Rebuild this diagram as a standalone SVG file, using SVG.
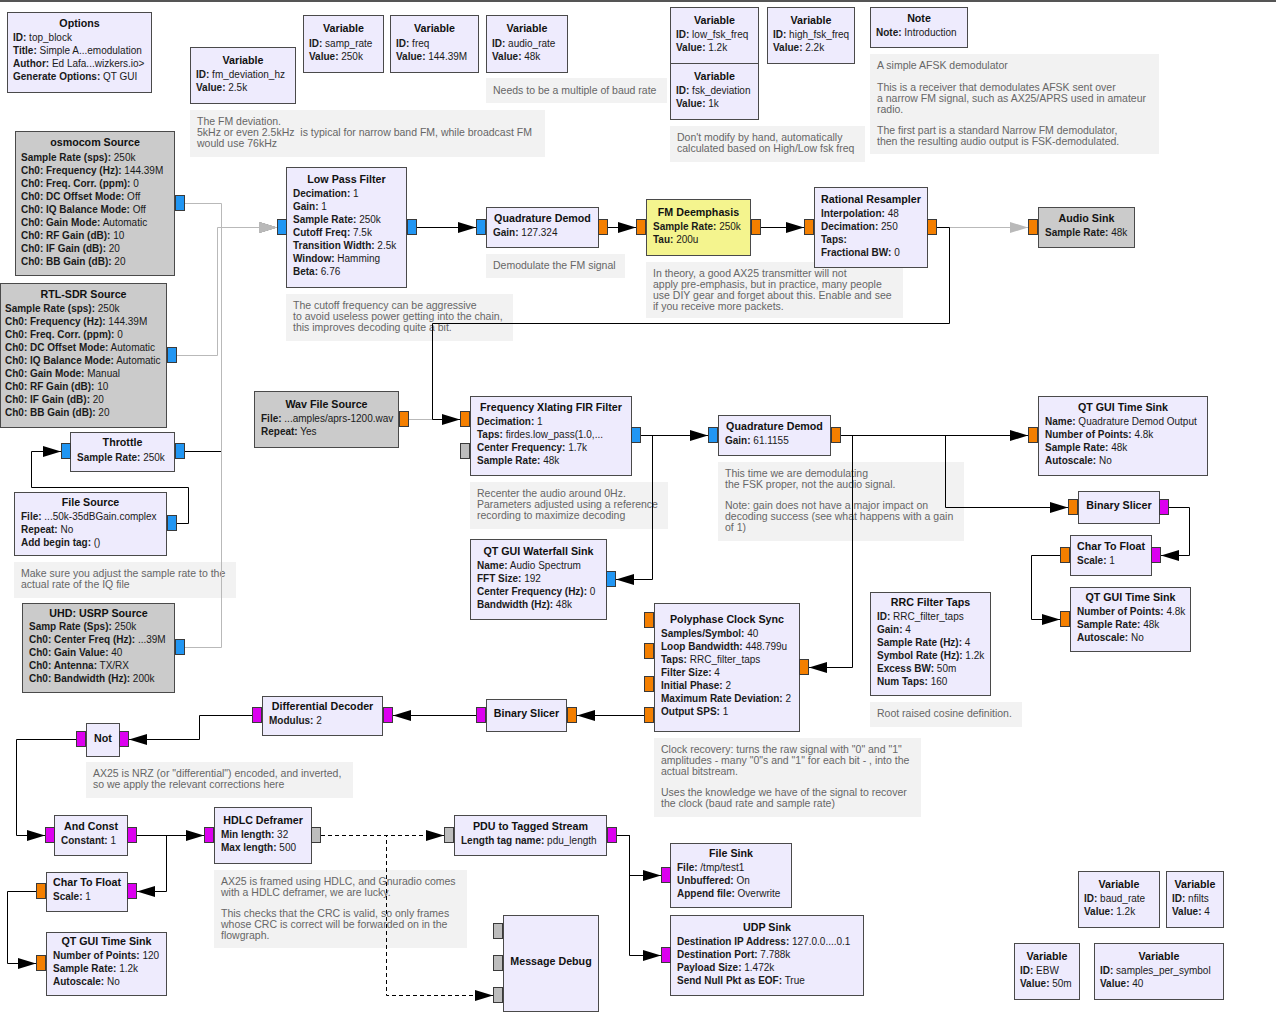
<svg xmlns="http://www.w3.org/2000/svg" width="1276" height="1026" viewBox="0 0 1276 1026">
<style>
.blk{fill:#eeebfd;stroke:#4a4a4a;stroke-width:1}
.dis{fill:#cbcbcb}
.yel{fill:#f4f48e}
.note{fill:#f2f2f2}
.p{stroke:#3a3a3a;stroke-width:1}
.pb{fill:#2196f3}
.po{fill:#f47f00}
.pm{fill:#dc00ef}
.pg{fill:#bdbdbd}
text{font-family:"Liberation Sans",Arial,sans-serif}
.t{font-size:10.7px;font-weight:bold;text-anchor:middle;fill:#111}
.b{font-size:10px;fill:#1a1a1a}
.k{font-weight:bold}
.n{font-size:10.5px;fill:#666;white-space:pre}
.c{fill:none;stroke:#000;stroke-width:1}
.cg{stroke:#b9b9b9}
.cd{stroke-dasharray:4 3}
</style>
<defs>
<marker id="ab" viewBox="0 0 18 12" refX="18" refY="6" markerWidth="18" markerHeight="12" markerUnits="userSpaceOnUse" orient="auto"><path d="M0,0.5 L18,6 L0,11.5z" fill="#000"/></marker>
<marker id="ag" viewBox="0 0 18 12" refX="18" refY="6" markerWidth="18" markerHeight="12" markerUnits="userSpaceOnUse" orient="auto"><path d="M0,0.5 L18,6 L0,11.5z" fill="#b9b9b9"/></marker>
</defs>
<rect x="0" y="0" width="1276" height="1026" fill="#fff"/>
<line x1="0" y1="1" x2="1276" y2="1" stroke="#555" stroke-width="2"/>

<g id="notes">
<g id="note-fm-dev"><rect class="note" x="190" y="110" width="355" height="47"/>
<text class="n" x="197" y="125">The FM deviation.</text>
<text class="n" x="197" y="136">5kHz or even 2.5kHz  is typical for narrow band FM, while broadcast FM</text>
<text class="n" x="197" y="147">would use 76kHz</text></g>
<g id="note-baud"><rect class="note" x="486" y="78" width="181" height="25"/>
<text class="n" x="493" y="94">Needs to be a multiple of baud rate</text></g>
<g id="note-fsk"><rect class="note" x="670" y="126" width="195" height="36"/>
<text class="n" x="677" y="141">Don't modify by hand, automatically</text>
<text class="n" x="677" y="152">calculated based on High/Low fsk freq</text></g>
<g id="note-intro"><rect class="note" x="870" y="54" width="289" height="100"/>
<text class="n" x="877" y="69">A simple AFSK demodulator</text>
<text class="n" x="877" y="91">This is a receiver that demodulates AFSK sent over</text>
<text class="n" x="877" y="102">a narrow FM signal, such as AX25/APRS used in amateur</text>
<text class="n" x="877" y="113">radio.</text>
<text class="n" x="877" y="134">The first part is a standard Narrow FM demodulator,</text>
<text class="n" x="877" y="145">then the resulting audio output is FSK-demodulated.</text></g>
<g id="note-demod"><rect class="note" x="486" y="254" width="139" height="24"/>
<text class="n" x="493" y="269">Demodulate the FM signal</text></g>
<g id="note-theory"><rect class="note" x="646" y="262" width="257" height="56"/>
<text class="n" x="653" y="277">In theory, a good AX25 transmitter will not</text>
<text class="n" x="653" y="288">apply pre-emphasis, but in practice, many people</text>
<text class="n" x="653" y="299">use DIY gear and forget about this. Enable and see</text>
<text class="n" x="653" y="310">if you receive more packets.</text></g>
<g id="note-cutoff"><rect class="note" x="286" y="294" width="227" height="47"/>
<text class="n" x="293" y="309">The cutoff frequency can be aggressive</text>
<text class="n" x="293" y="320">to avoid useless power getting into the chain,</text>
<text class="n" x="293" y="331">this improves decoding quite a bit.</text></g>
<g id="note-recenter"><rect class="note" x="470" y="482" width="198" height="47"/>
<text class="n" x="477" y="497">Recenter the audio around 0Hz.</text>
<text class="n" x="477" y="508">Parameters adjusted using a reference</text>
<text class="n" x="477" y="519">recording to maximize decoding</text></g>
<g id="note-thistime"><rect class="note" x="718" y="462" width="246" height="79"/>
<text class="n" x="725" y="477">This time we are demodulating</text>
<text class="n" x="725" y="488">the FSK proper, not the audio signal.</text>
<text class="n" x="725" y="509">Note: gain does not have a major impact on</text>
<text class="n" x="725" y="520">decoding success (see what happens with a gain</text>
<text class="n" x="725" y="531">of 1)</text></g>
<g id="note-makesure"><rect class="note" x="14" y="562" width="222" height="36"/>
<text class="n" x="21" y="577">Make sure you adjust the sample rate to the</text>
<text class="n" x="21" y="588">actual rate of the IQ file</text></g>
<g id="note-rrc"><rect class="note" x="870" y="702" width="152" height="25"/>
<text class="n" x="877" y="717">Root raised cosine definition.</text></g>
<g id="note-clock"><rect class="note" x="654" y="738" width="267" height="79"/>
<text class="n" x="661" y="753">Clock recovery: turns the raw signal with "0" and "1"</text>
<text class="n" x="661" y="764">amplitudes - many "0"s and "1" for each bit - , into the</text>
<text class="n" x="661" y="775">actual bitstream.</text>
<text class="n" x="661" y="796">Uses the knowledge we have of the signal to recover</text>
<text class="n" x="661" y="807">the clock (baud rate and sample rate)</text></g>
<g id="note-nrz"><rect class="note" x="86" y="762" width="267" height="36"/>
<text class="n" x="93" y="777">AX25 is NRZ (or "differential") encoded, and inverted,</text>
<text class="n" x="93" y="788">so we apply the relevant corrections here</text></g>
<g id="note-hdlc"><rect class="note" x="214" y="870" width="253" height="78"/>
<text class="n" x="221" y="885">AX25 is framed using HDLC, and Gnuradio comes</text>
<text class="n" x="221" y="896">with a HDLC deframer, we are lucky.</text>
<text class="n" x="221" y="917">This checks that the CRC is valid, so only frames</text>
<text class="n" x="221" y="928">whose CRC is correct will be forwarded on in the</text>
<text class="n" x="221" y="939">flowgraph.</text></g>
</g>

<g id="connectors">
<path class="c" marker-end="url(#ab)" d="M185,451.5 H221.5 V227.5 H277"/>
<path class="c cg" marker-end="url(#ag)" d="M185,203.5 H221.5 V227.5 H277"/>
<path class="c cg" marker-end="url(#ag)" d="M177,355.5 H217.5 V227.5 H277"/>
<path class="c cg" marker-end="url(#ag)" d="M185,647.5 H221.5 V227.5 H277"/>
<path class="c" marker-end="url(#ab)" d="M177,523.5 H188.5 V487.5 H31.5 V451.5 H61"/>
<path class="c" marker-end="url(#ab)" d="M417,227.5 H476"/>
<path class="c" marker-end="url(#ab)" d="M608,227.5 H636"/>
<path class="c" marker-end="url(#ab)" d="M761,227.5 H804"/>
<path class="c cg" marker-end="url(#ag)" d="M937,227.5 H1028"/>
<path class="c cg" d="M409,419.5 H445"/>
<path class="c" marker-end="url(#ab)" d="M937,227.5 H949.5 V323.5 H432.5 V419.5 H460"/>
<path class="c" marker-end="url(#ab)" d="M641,435.5 H708"/>
<path class="c" marker-end="url(#ab)" d="M641,435.5 H652.5 V579.5 H616"/>
<path class="c" marker-end="url(#ab)" d="M841,435.5 H1028"/>
<path class="c" marker-end="url(#ab)" d="M841,435.5 H945.5 V507.5 H1068"/>
<path class="c" marker-end="url(#ab)" d="M841,435.5 H852.5 V667.5 H809"/>
<path class="c" marker-end="url(#ab)" d="M1169,507.5 H1189.5 V555.5 H1161"/>
<path class="c" marker-end="url(#ab)" d="M1060,555.5 H1031.5 V619.5 H1060"/>
<path class="c" marker-end="url(#ab)" d="M644,715.5 H577"/>
<path class="c" marker-end="url(#ab)" d="M476,715.5 H393"/>
<path class="c" marker-end="url(#ab)" d="M252,715.5 H199.5 V739.5 H129"/>
<path class="c" marker-end="url(#ab)" d="M76,739.5 H16.5 V835.5 H45"/>
<path class="c" marker-end="url(#ab)" d="M137,835.5 H204"/>
<path class="c" marker-end="url(#ab)" d="M137,835.5 H166.5 V891.5 H137"/>
<path class="c" marker-end="url(#ab)" d="M36,891.5 H7.5 V963.5 H36"/>
<path class="c cd" marker-end="url(#ab)" d="M321,835.5 H444"/>
<path class="c cd" marker-end="url(#ab)" d="M321,835.5 H386.5 V995.5 H493"/>
<path class="c" marker-end="url(#ab)" d="M617,835.5 H629.5 V875.5 H661"/>
<path class="c" marker-end="url(#ab)" d="M617,835.5 H629.5 V955.5 H661"/>
</g>

<g id="options"><rect class="blk" x="7.5" y="12.5" width="144" height="80"/>
<text class="t" x="79.5" y="27">Options</text>
<text class="b" x="13" y="41"><tspan class="k">ID:</tspan> top_block</text>
<text class="b" x="13" y="54"><tspan class="k">Title:</tspan> Simple A...emodulation</text>
<text class="b" x="13" y="67"><tspan class="k">Author:</tspan> Ed Lafa...wizkers.io&gt;</text>
<text class="b" x="13" y="80"><tspan class="k">Generate Options:</tspan> QT GUI</text></g>

<g id="var-samp-rate"><rect class="blk" x="303.5" y="15.5" width="80" height="57"/>
<text class="t" x="343.5" y="32">Variable</text>
<text class="b" x="309" y="47"><tspan class="k">ID:</tspan> samp_rate</text>
<text class="b" x="309" y="60"><tspan class="k">Value:</tspan> 250k</text></g>
<g id="var-freq"><rect class="blk" x="390.5" y="15.5" width="88" height="57"/>
<text class="t" x="434.5" y="32">Variable</text>
<text class="b" x="396" y="47"><tspan class="k">ID:</tspan> freq</text>
<text class="b" x="396" y="60"><tspan class="k">Value:</tspan> 144.39M</text></g>
<g id="var-audio-rate"><rect class="blk" x="486.5" y="15.5" width="81" height="57"/>
<text class="t" x="527" y="32">Variable</text>
<text class="b" x="492" y="47"><tspan class="k">ID:</tspan> audio_rate</text>
<text class="b" x="492" y="60"><tspan class="k">Value:</tspan> 48k</text></g>
<g id="var-fm-dev"><rect class="blk" x="190.5" y="47.5" width="105" height="56"/>
<text class="t" x="243" y="64">Variable</text>
<text class="b" x="196" y="78"><tspan class="k">ID:</tspan> fm_deviation_hz</text>
<text class="b" x="196" y="91"><tspan class="k">Value:</tspan> 2.5k</text></g>
<g id="var-low-fsk"><rect class="blk" x="670.5" y="7.5" width="88" height="56"/>
<text class="t" x="714.5" y="24">Variable</text>
<text class="b" x="676" y="38"><tspan class="k">ID:</tspan> low_fsk_freq</text>
<text class="b" x="676" y="51"><tspan class="k">Value:</tspan> 1.2k</text></g>
<g id="var-fsk-dev"><rect class="blk" x="670.5" y="63.5" width="88" height="56"/>
<text class="t" x="714.5" y="80">Variable</text>
<text class="b" x="676" y="94"><tspan class="k">ID:</tspan> fsk_deviation</text>
<text class="b" x="676" y="107"><tspan class="k">Value:</tspan> 1k</text></g>
<g id="var-high-fsk"><rect class="blk" x="767.5" y="7.5" width="87" height="56"/>
<text class="t" x="811" y="24">Variable</text>
<text class="b" x="773" y="38"><tspan class="k">ID:</tspan> high_fsk_freq</text>
<text class="b" x="773" y="51"><tspan class="k">Value:</tspan> 2.2k</text></g>
<g id="note-block"><rect class="blk" x="870.5" y="7.5" width="97" height="40"/>
<text class="t" x="919" y="22">Note</text>
<text class="b" x="876" y="36"><tspan class="k">Note:</tspan> Introduction</text></g>

<g id="osmocom-source"><rect class="blk dis" x="15.5" y="131.5" width="159" height="144"/>
<text class="t" x="95" y="146">osmocom Source</text>
<text class="b" x="21" y="161"><tspan class="k">Sample Rate (sps):</tspan> 250k</text>
<text class="b" x="21" y="174"><tspan class="k">Ch0: Frequency (Hz):</tspan> 144.39M</text>
<text class="b" x="21" y="187"><tspan class="k">Ch0: Freq. Corr. (ppm):</tspan> 0</text>
<text class="b" x="21" y="200"><tspan class="k">Ch0: DC Offset Mode:</tspan> Off</text>
<text class="b" x="21" y="213"><tspan class="k">Ch0: IQ Balance Mode:</tspan> Off</text>
<text class="b" x="21" y="226"><tspan class="k">Ch0: Gain Mode:</tspan> Automatic</text>
<text class="b" x="21" y="239"><tspan class="k">Ch0: RF Gain (dB):</tspan> 10</text>
<text class="b" x="21" y="252"><tspan class="k">Ch0: IF Gain (dB):</tspan> 20</text>
<text class="b" x="21" y="265"><tspan class="k">Ch0: BB Gain (dB):</tspan> 20</text>
<rect class="p pb" x="175.5" y="195.5" width="9" height="15"/></g>

<g id="rtl-sdr-source"><rect class="blk dis" x="0.5" y="283.5" width="166" height="144"/>
<text class="t" x="83.5" y="298">RTL-SDR Source</text>
<text class="b" x="5" y="312"><tspan class="k">Sample Rate (sps):</tspan> 250k</text>
<text class="b" x="5" y="325"><tspan class="k">Ch0: Frequency (Hz):</tspan> 144.39M</text>
<text class="b" x="5" y="338"><tspan class="k">Ch0: Freq. Corr. (ppm):</tspan> 0</text>
<text class="b" x="5" y="351"><tspan class="k">Ch0: DC Offset Mode:</tspan> Automatic</text>
<text class="b" x="5" y="364"><tspan class="k">Ch0: IQ Balance Mode:</tspan> Automatic</text>
<text class="b" x="5" y="377"><tspan class="k">Ch0: Gain Mode:</tspan> Manual</text>
<text class="b" x="5" y="390"><tspan class="k">Ch0: RF Gain (dB):</tspan> 10</text>
<text class="b" x="5" y="403"><tspan class="k">Ch0: IF Gain (dB):</tspan> 20</text>
<text class="b" x="5" y="416"><tspan class="k">Ch0: BB Gain (dB):</tspan> 20</text>
<rect class="p pb" x="167.5" y="347.5" width="9" height="15"/></g>

<g id="throttle"><rect class="blk" x="70.5" y="432.5" width="104" height="39"/>
<text class="t" x="122.5" y="446">Throttle</text>
<text class="b" x="77" y="461"><tspan class="k">Sample Rate:</tspan> 250k</text>
<rect class="p pb" x="61.5" y="443.5" width="9" height="15"/>
<rect class="p pb" x="175.5" y="443.5" width="9" height="15"/></g>

<g id="file-source"><rect class="blk" x="14.5" y="492.5" width="152" height="63"/>
<text class="t" x="90.5" y="506">File Source</text>
<text class="b" x="21" y="520"><tspan class="k">File:</tspan> ...50k-35dBGain.complex</text>
<text class="b" x="21" y="533"><tspan class="k">Repeat:</tspan> No</text>
<text class="b" x="21" y="546"><tspan class="k">Add begin tag:</tspan> ()</text>
<rect class="p pb" x="167.5" y="515.5" width="9" height="15"/></g>

<g id="uhd-source"><rect class="blk dis" x="22.5" y="603.5" width="152" height="89"/>
<text class="t" x="98.5" y="617">UHD: USRP Source</text>
<text class="b" x="29" y="630"><tspan class="k">Samp Rate (Sps):</tspan> 250k</text>
<text class="b" x="29" y="643"><tspan class="k">Ch0: Center Freq (Hz):</tspan> ...39M</text>
<text class="b" x="29" y="656"><tspan class="k">Ch0: Gain Value:</tspan> 40</text>
<text class="b" x="29" y="669"><tspan class="k">Ch0: Antenna:</tspan> TX/RX</text>
<text class="b" x="29" y="682"><tspan class="k">Ch0: Bandwidth (Hz):</tspan> 200k</text>
<rect class="p pb" x="175.5" y="639.5" width="9" height="15"/></g>

<g id="low-pass-filter"><rect class="blk" x="286.5" y="167.5" width="120" height="120"/>
<text class="t" x="346.5" y="183">Low Pass Filter</text>
<text class="b" x="293" y="197"><tspan class="k">Decimation:</tspan> 1</text>
<text class="b" x="293" y="210"><tspan class="k">Gain:</tspan> 1</text>
<text class="b" x="293" y="223"><tspan class="k">Sample Rate:</tspan> 250k</text>
<text class="b" x="293" y="236"><tspan class="k">Cutoff Freq:</tspan> 7.5k</text>
<text class="b" x="293" y="249"><tspan class="k">Transition Width:</tspan> 2.5k</text>
<text class="b" x="293" y="262"><tspan class="k">Window:</tspan> Hamming</text>
<text class="b" x="293" y="275"><tspan class="k">Beta:</tspan> 6.76</text>
<rect class="p pb" x="277.5" y="219.5" width="9" height="15"/>
<rect class="p pb" x="407.5" y="219.5" width="9" height="15"/></g>

<g id="quad-demod-1"><rect class="blk" x="486.5" y="207.5" width="112" height="40"/>
<text class="t" x="542.5" y="222">Quadrature Demod</text>
<text class="b" x="493" y="236"><tspan class="k">Gain:</tspan> 127.324</text>
<rect class="p pb" x="476.5" y="219.5" width="9" height="15"/>
<rect class="p po" x="598.5" y="219.5" width="9" height="15"/></g>

<g id="fm-deemphasis"><rect class="blk yel" x="646.5" y="199.5" width="104" height="56"/>
<text class="t" x="698.5" y="216">FM Deemphasis</text>
<text class="b" x="653" y="230"><tspan class="k">Sample Rate:</tspan> 250k</text>
<text class="b" x="653" y="243"><tspan class="k">Tau:</tspan> 200u</text>
<rect class="p po" x="636.5" y="219.5" width="9" height="15"/>
<rect class="p po" x="751.5" y="219.5" width="9" height="15"/></g>

<g id="rational-resampler"><rect class="blk" x="814.5" y="187.5" width="113" height="80"/>
<text class="t" x="871" y="203">Rational Resampler</text>
<text class="b" x="821" y="217"><tspan class="k">Interpolation:</tspan> 48</text>
<text class="b" x="821" y="230"><tspan class="k">Decimation:</tspan> 250</text>
<text class="b" x="821" y="243"><tspan class="k">Taps:</tspan></text>
<text class="b" x="821" y="256"><tspan class="k">Fractional BW:</tspan> 0</text>
<rect class="p po" x="804.5" y="219.5" width="9" height="15"/>
<rect class="p po" x="927.5" y="219.5" width="9" height="15"/></g>

<g id="audio-sink"><rect class="blk dis" x="1038.5" y="207.5" width="96" height="40"/>
<text class="t" x="1086.5" y="222">Audio Sink</text>
<text class="b" x="1045" y="236"><tspan class="k">Sample Rate:</tspan> 48k</text>
<rect class="p po" x="1028.5" y="219.5" width="9" height="15"/></g>

<g id="wav-file-source"><rect class="blk dis" x="254.5" y="391.5" width="144" height="56"/>
<text class="t" x="326.5" y="408">Wav File Source</text>
<text class="b" x="261" y="422"><tspan class="k">File:</tspan> ...amples/aprs-1200.wav</text>
<text class="b" x="261" y="435"><tspan class="k">Repeat:</tspan> Yes</text>
<rect class="p po" x="399.5" y="411.5" width="9" height="15"/></g>

<g id="freq-xlating-fir"><rect class="blk" x="470.5" y="396.5" width="161" height="79"/>
<text class="t" x="551" y="411">Frequency Xlating FIR Filter</text>
<text class="b" x="477" y="425"><tspan class="k">Decimation:</tspan> 1</text>
<text class="b" x="477" y="438"><tspan class="k">Taps:</tspan> firdes.low_pass(1.0,...</text>
<text class="b" x="477" y="451"><tspan class="k">Center Frequency:</tspan> 1.7k</text>
<text class="b" x="477" y="464"><tspan class="k">Sample Rate:</tspan> 48k</text>
<rect class="p po" x="460.5" y="411.5" width="9" height="15"/>
<rect class="p pg" x="460.5" y="443.5" width="9" height="15"/>
<rect class="p pb" x="631.5" y="427.5" width="9" height="15"/></g>

<g id="waterfall-sink"><rect class="blk" x="470.5" y="539.5" width="136" height="80"/>
<text class="t" x="538.5" y="555">QT GUI Waterfall Sink</text>
<text class="b" x="477" y="569"><tspan class="k">Name:</tspan> Audio Spectrum</text>
<text class="b" x="477" y="582"><tspan class="k">FFT Size:</tspan> 192</text>
<text class="b" x="477" y="595"><tspan class="k">Center Frequency (Hz):</tspan> 0</text>
<text class="b" x="477" y="608"><tspan class="k">Bandwidth (Hz):</tspan> 48k</text>
<rect class="p pb" x="606.5" y="571.5" width="9" height="15"/></g>

<g id="quad-demod-2"><rect class="blk" x="718.5" y="415.5" width="112" height="40"/>
<text class="t" x="774.5" y="430">Quadrature Demod</text>
<text class="b" x="725" y="444"><tspan class="k">Gain:</tspan> 61.1155</text>
<rect class="p pb" x="708.5" y="427.5" width="9" height="15"/>
<rect class="p po" x="831.5" y="427.5" width="9" height="15"/></g>

<g id="time-sink-1"><rect class="blk" x="1038.5" y="396.5" width="169" height="79"/>
<text class="t" x="1123" y="411">QT GUI Time Sink</text>
<text class="b" x="1045" y="425"><tspan class="k">Name:</tspan> Quadrature Demod Output</text>
<text class="b" x="1045" y="438"><tspan class="k">Number of Points:</tspan> 4.8k</text>
<text class="b" x="1045" y="451"><tspan class="k">Sample Rate:</tspan> 48k</text>
<text class="b" x="1045" y="464"><tspan class="k">Autoscale:</tspan> No</text>
<rect class="p po" x="1028.5" y="427.5" width="9" height="15"/></g>

<g id="binary-slicer-1"><rect class="blk" x="1078.5" y="491.5" width="81" height="32"/>
<text class="t" x="1119" y="509">Binary Slicer</text>
<rect class="p po" x="1068.5" y="499.5" width="9" height="15"/>
<rect class="p pm" x="1159.5" y="499.5" width="9" height="15"/></g>

<g id="char-to-float-1"><rect class="blk" x="1070.5" y="535.5" width="81" height="40"/>
<text class="t" x="1111" y="550">Char To Float</text>
<text class="b" x="1077" y="564"><tspan class="k">Scale:</tspan> 1</text>
<rect class="p pm" x="1151.5" y="547.5" width="9" height="15"/>
<rect class="p po" x="1060.5" y="547.5" width="9" height="15"/></g>

<g id="time-sink-2"><rect class="blk" x="1070.5" y="587.5" width="120" height="64"/>
<text class="t" x="1130.5" y="601">QT GUI Time Sink</text>
<text class="b" x="1077" y="615"><tspan class="k">Number of Points:</tspan> 4.8k</text>
<text class="b" x="1077" y="628"><tspan class="k">Sample Rate:</tspan> 48k</text>
<text class="b" x="1077" y="641"><tspan class="k">Autoscale:</tspan> No</text>
<rect class="p po" x="1060.5" y="611.5" width="9" height="15"/></g>

<g id="polyphase-clock-sync"><rect class="blk" x="654.5" y="603.5" width="145" height="128"/>
<text class="t" x="727" y="623">Polyphase Clock Sync</text>
<text class="b" x="661" y="637"><tspan class="k">Samples/Symbol:</tspan> 40</text>
<text class="b" x="661" y="650"><tspan class="k">Loop Bandwidth:</tspan> 448.799u</text>
<text class="b" x="661" y="663"><tspan class="k">Taps:</tspan> RRC_filter_taps</text>
<text class="b" x="661" y="676"><tspan class="k">Filter Size:</tspan> 4</text>
<text class="b" x="661" y="689"><tspan class="k">Initial Phase:</tspan> 2</text>
<text class="b" x="661" y="702"><tspan class="k">Maximum Rate Deviation:</tspan> 2</text>
<text class="b" x="661" y="715"><tspan class="k">Output SPS:</tspan> 1</text>
<rect class="p po" x="799.5" y="659.5" width="9" height="15"/>
<rect class="p po" x="644.5" y="612.5" width="9" height="15"/>
<rect class="p po" x="644.5" y="643.5" width="9" height="15"/>
<rect class="p po" x="644.5" y="676.5" width="9" height="15"/>
<rect class="p po" x="644.5" y="707.5" width="9" height="15"/></g>

<g id="rrc-filter-taps"><rect class="blk" x="870.5" y="592.5" width="120" height="103"/>
<text class="t" x="930.5" y="606">RRC Filter Taps</text>
<text class="b" x="877" y="620"><tspan class="k">ID:</tspan> RRC_filter_taps</text>
<text class="b" x="877" y="633"><tspan class="k">Gain:</tspan> 4</text>
<text class="b" x="877" y="646"><tspan class="k">Sample Rate (Hz):</tspan> 4</text>
<text class="b" x="877" y="659"><tspan class="k">Symbol Rate (Hz):</tspan> 1.2k</text>
<text class="b" x="877" y="672"><tspan class="k">Excess BW:</tspan> 50m</text>
<text class="b" x="877" y="685"><tspan class="k">Num Taps:</tspan> 160</text></g>

<g id="binary-slicer-2"><rect class="blk" x="486.5" y="699.5" width="80" height="32"/>
<text class="t" x="526.5" y="717">Binary Slicer</text>
<rect class="p po" x="567.5" y="707.5" width="9" height="15"/>
<rect class="p pm" x="476.5" y="707.5" width="9" height="15"/></g>

<g id="differential-decoder"><rect class="blk" x="262.5" y="696.5" width="120" height="39"/>
<text class="t" x="322.5" y="710">Differential Decoder</text>
<text class="b" x="269" y="724"><tspan class="k">Modulus:</tspan> 2</text>
<rect class="p pm" x="383.5" y="707.5" width="9" height="15"/>
<rect class="p pm" x="252.5" y="707.5" width="9" height="15"/></g>

<g id="not"><rect class="blk" x="86.5" y="723.5" width="33" height="33"/>
<text class="t" x="103" y="742">Not</text>
<rect class="p pm" x="119.5" y="731.5" width="9" height="15"/>
<rect class="p pm" x="76.5" y="731.5" width="9" height="15"/></g>

<g id="and-const"><rect class="blk" x="54.5" y="815.5" width="73" height="40"/>
<text class="t" x="91" y="830">And Const</text>
<text class="b" x="61" y="844"><tspan class="k">Constant:</tspan> 1</text>
<rect class="p pm" x="45.5" y="827.5" width="9" height="15"/>
<rect class="p pm" x="127.5" y="827.5" width="9" height="15"/></g>

<g id="hdlc-deframer"><rect class="blk" x="214.5" y="807.5" width="97" height="56"/>
<text class="t" x="263" y="824">HDLC Deframer</text>
<text class="b" x="221" y="838"><tspan class="k">Min length:</tspan> 32</text>
<text class="b" x="221" y="851"><tspan class="k">Max length:</tspan> 500</text>
<rect class="p pm" x="204.5" y="827.5" width="9" height="15"/>
<rect class="p pg" x="311.5" y="827.5" width="9" height="15"/></g>

<g id="pdu-to-tagged-stream"><rect class="blk" x="454.5" y="815.5" width="152" height="40"/>
<text class="t" x="530.5" y="830">PDU to Tagged Stream</text>
<text class="b" x="461" y="844"><tspan class="k">Length tag name:</tspan> pdu_length</text>
<rect class="p pg" x="444.5" y="827.5" width="9" height="15"/>
<rect class="p pm" x="607.5" y="827.5" width="9" height="15"/></g>

<g id="file-sink"><rect class="blk" x="670.5" y="843.5" width="121" height="64"/>
<text class="t" x="731" y="857">File Sink</text>
<text class="b" x="677" y="871"><tspan class="k">File:</tspan> /tmp/test1</text>
<text class="b" x="677" y="884"><tspan class="k">Unbuffered:</tspan> On</text>
<text class="b" x="677" y="897"><tspan class="k">Append file:</tspan> Overwrite</text>
<rect class="p pm" x="661.5" y="867.5" width="9" height="15"/></g>

<g id="udp-sink"><rect class="blk" x="670.5" y="915.5" width="193" height="80"/>
<text class="t" x="767" y="931">UDP Sink</text>
<text class="b" x="677" y="945"><tspan class="k">Destination IP Address:</tspan> 127.0.0....0.1</text>
<text class="b" x="677" y="958"><tspan class="k">Destination Port:</tspan> 7.788k</text>
<text class="b" x="677" y="971"><tspan class="k">Payload Size:</tspan> 1.472k</text>
<text class="b" x="677" y="984"><tspan class="k">Send Null Pkt as EOF:</tspan> True</text>
<rect class="p pm" x="661.5" y="947.5" width="9" height="15"/></g>

<g id="message-debug"><rect class="blk" x="503.5" y="915.5" width="95" height="96"/>
<text class="t" x="551" y="965">Message Debug</text>
<rect class="p pg" x="493.5" y="923.5" width="9" height="15"/>
<rect class="p pg" x="493.5" y="955.5" width="9" height="15"/>
<rect class="p pg" x="493.5" y="987.5" width="9" height="15"/></g>

<g id="char-to-float-2"><rect class="blk" x="46.5" y="872.5" width="81" height="39"/>
<text class="t" x="87" y="886">Char To Float</text>
<text class="b" x="53" y="900"><tspan class="k">Scale:</tspan> 1</text>
<rect class="p pm" x="127.5" y="883.5" width="9" height="15"/>
<rect class="p po" x="36.5" y="883.5" width="9" height="15"/></g>

<g id="time-sink-3"><rect class="blk" x="46.5" y="932.5" width="120" height="63"/>
<text class="t" x="106.5" y="945">QT GUI Time Sink</text>
<text class="b" x="53" y="959"><tspan class="k">Number of Points:</tspan> 120</text>
<text class="b" x="53" y="972"><tspan class="k">Sample Rate:</tspan> 1.2k</text>
<text class="b" x="53" y="985"><tspan class="k">Autoscale:</tspan> No</text>
<rect class="p po" x="36.5" y="955.5" width="9" height="15"/></g>

<g id="var-baud-rate"><rect class="blk" x="1078.5" y="871.5" width="81" height="56"/>
<text class="t" x="1119" y="888">Variable</text>
<text class="b" x="1084" y="902"><tspan class="k">ID:</tspan> baud_rate</text>
<text class="b" x="1084" y="915"><tspan class="k">Value:</tspan> 1.2k</text></g>
<g id="var-nfilts"><rect class="blk" x="1166.5" y="871.5" width="57" height="56"/>
<text class="t" x="1195" y="888">Variable</text>
<text class="b" x="1172" y="902"><tspan class="k">ID:</tspan> nfilts</text>
<text class="b" x="1172" y="915"><tspan class="k">Value:</tspan> 4</text></g>
<g id="var-ebw"><rect class="blk" x="1014.5" y="943.5" width="65" height="56"/>
<text class="t" x="1047" y="960">Variable</text>
<text class="b" x="1020" y="974"><tspan class="k">ID:</tspan> EBW</text>
<text class="b" x="1020" y="987"><tspan class="k">Value:</tspan> 50m</text></g>
<g id="var-sps"><rect class="blk" x="1094.5" y="943.5" width="129" height="56"/>
<text class="t" x="1159" y="960">Variable</text>
<text class="b" x="1100" y="974"><tspan class="k">ID:</tspan> samples_per_symbol</text>
<text class="b" x="1100" y="987"><tspan class="k">Value:</tspan> 40</text></g>
</svg>
